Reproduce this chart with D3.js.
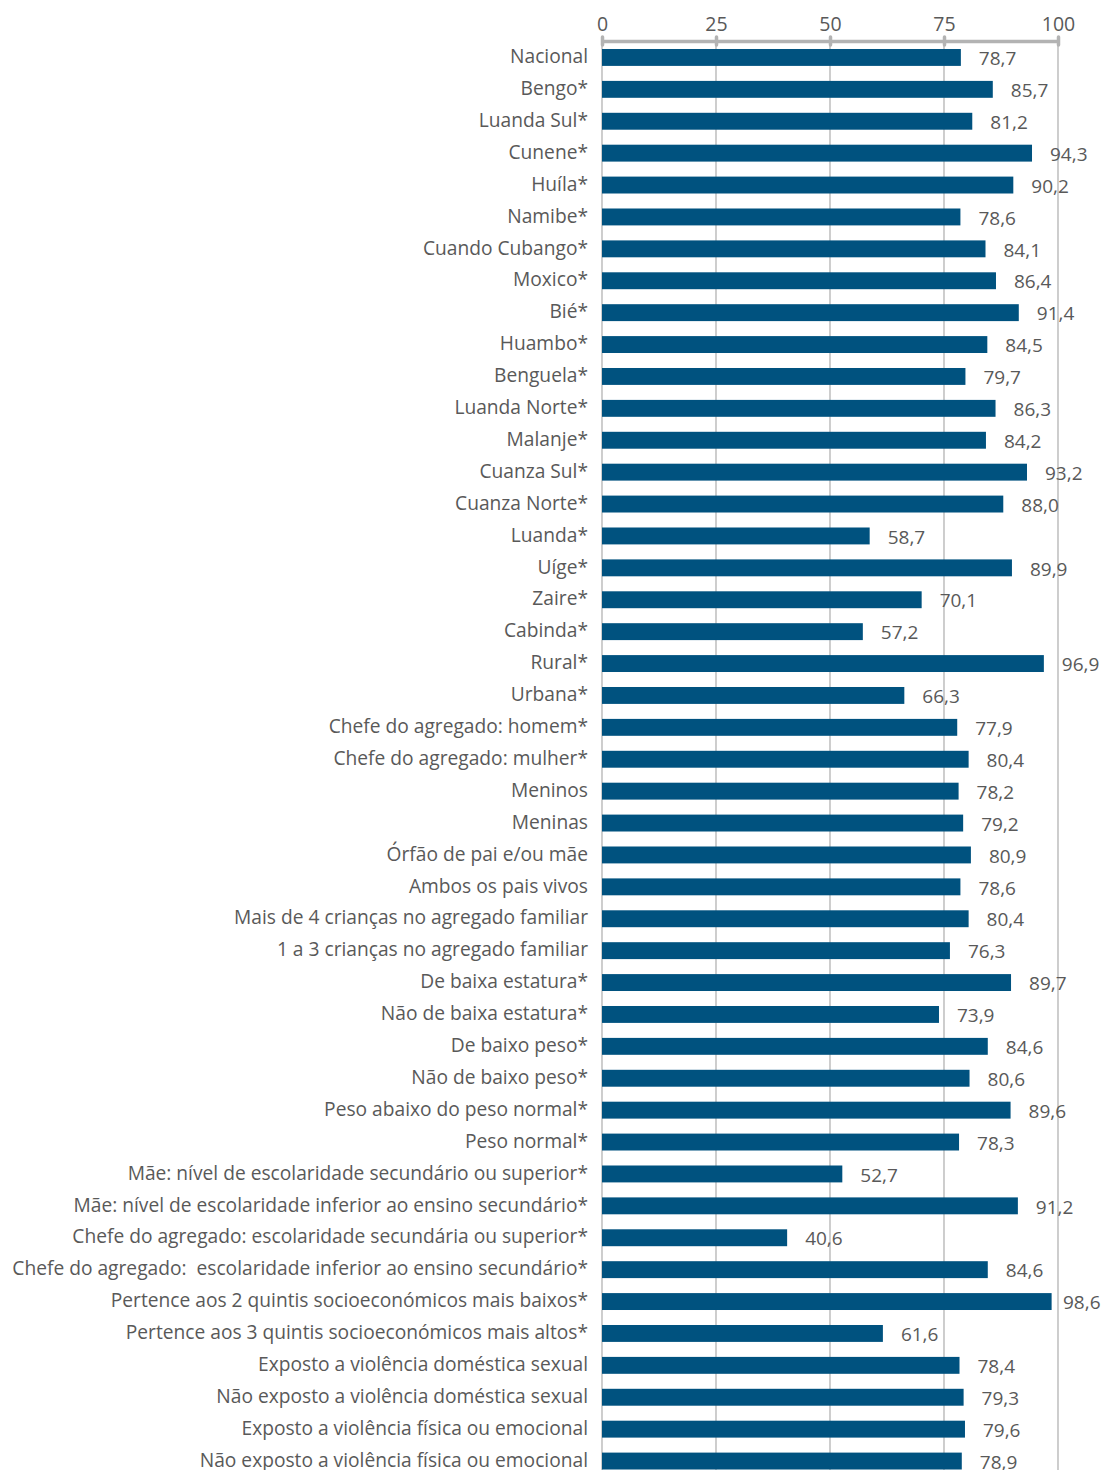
<!DOCTYPE html>
<html>
<head>
<meta charset="utf-8">
<script src="https://cdn.jsdelivr.net/npm/d3@7"></script>
<style>
  body { margin: 0; background: #fff; }
  text { font-family: "Open Sans", Lato, sans-serif; fill: #595959; }
</style>
</head>
<body>
<script>
// categories and values
var categories = [
  "Nacional", "Bengo*", "Luanda Sul*", "Cunene*", "Huíla*", "Namibe*",
  "Cuando Cubango*", "Moxico*", "Bié*", "Huambo*", "Benguela*", "Luanda Norte*",
  "Malanje*", "Cuanza Sul*", "Cuanza Norte*", "Luanda*", "Uíge*", "Zaire*",
  "Cabinda*", "Rural*", "Urbana*", "Chefe do agregado: homem*",
  "Chefe do agregado: mulher*", "Meninos", "Meninas", "Órfão de pai e/ou mãe",
  "Ambos os pais vivos", "Mais de 4 crianças no agregado familiar",
  "1 a 3 crianças no agregado familiar", "De baixa estatura*",
  "Não de baixa estatura*", "De baixo peso*", "Não de baixo peso*",
  "Peso abaixo do peso normal*", "Peso normal*",
  "Mãe: nível de escolaridade secundário ou superior*",
  "Mãe: nível de escolaridade inferior ao ensino secundário*",
  "Chefe do agregado: escolaridade secundária ou superior*",
  "Chefe do agregado:  escolaridade inferior ao ensino secundário*",
  "Pertence aos 2 quintis socioeconómicos mais baixos*",
  "Pertence aos 3 quintis socioeconómicos mais altos*",
  "Exposto a violência doméstica sexual", "Não exposto a violência doméstica sexual",
  "Exposto a violência física ou emocional", "Não exposto a violência física ou emocional"
];
var values = [
  78.7, 85.7, 81.2, 94.3, 90.2, 78.6, 84.1, 86.4, 91.4, 84.5, 79.7, 86.3,
  84.2, 93.2, 88.0, 58.7, 89.9, 70.1, 57.2, 96.9, 66.3, 77.9, 80.4, 78.2,
  79.2, 80.9, 78.6, 80.4, 76.3, 89.7, 73.9, 84.6, 80.6, 89.6, 78.3, 52.7,
  91.2, 40.6, 84.6, 98.6, 61.6, 78.4, 79.3, 79.6, 78.9
];
var tickValues = [0, 25, 50, 75, 100];

var data = categories.map(function(c, i) { return {name: c, value: values[i]}; });

var width = 1106, height = 1470;
var x0 = 602, x1 = 1058, axisY = 41;
var fmt = function(v) { return v.toFixed(1).replace(".", ","); };

var svg = d3.select("body").append("svg")
    .attr("width", width)
    .attr("height", height);

var x = d3.scaleLinear().domain([0, 100]).range([x0, x1]);
var y = d3.scaleBand()
    .domain(categories)
    .range([41.5, 41.5 + 31.9 * categories.length])
    .paddingInner(0.47)
    .paddingOuter(0.235);

//__gridlines__//
svg.append("g").selectAll("line")
    .data(tickValues)
    .enter().append("line")
    .attr("x1", d => x(d)).attr("x2", d => x(d))
    .attr("y1", axisY).attr("y2", height)
    .attr("stroke", "#b3b3b3")
    .attr("stroke-width", 1.3);

//__top axis__//
var axis = svg.append("g")
    .attr("transform", "translate(0," + axisY + ")")
    .call(d3.axisTop(x).tickValues(tickValues).tickSize(0).tickPadding(10));
axis.select(".domain").attr("stroke", "#b3b3b3").attr("stroke-width", 3.5);
axis.selectAll(".tick text")
    .style("font-family", '"Open Sans", Lato, sans-serif')
    .attr("fill", "#595959")
    .style("font-size", "19.5px");
axis.selectAll(".tick").append("line")
    .attr("y1", -4).attr("y2", 4)
    .attr("stroke", "#b3b3b3")
    .attr("stroke-width", 3.5)
    .attr("stroke-linecap", "round");

//__bars__//
svg.append("g").selectAll("rect")
    .data(data)
    .enter().append("rect")
    .attr("x", x(0))
    .attr("y", d => y(d.name))
    .attr("width", d => x(d.value) - x(0))
    .attr("height", y.bandwidth())
    .attr("fill", "#00527f");

//__category labels__//
svg.append("g").selectAll("text")
    .data(data)
    .enter().append("text")
    .attr("x", 588)
    .attr("y", d => y(d.name) + y.bandwidth() / 2 - 1)
    .attr("dy", "0.35em")
    .attr("text-anchor", "end")
    .style("font-size", "19.2px")
    .style("white-space", "pre")
    .text(d => d.name);

//__value labels__//
svg.append("g").selectAll("text")
    .data(data)
    .enter().append("text")
    .attr("x", d => Math.min(x(d.value) + 18, 1063))
    .attr("y", d => y(d.name) + y.bandwidth() / 2 + 1)
    .attr("dy", "0.35em")
    .style("font-size", "19px")
    .text(d => fmt(d.value));
</script>
</body>
</html>
